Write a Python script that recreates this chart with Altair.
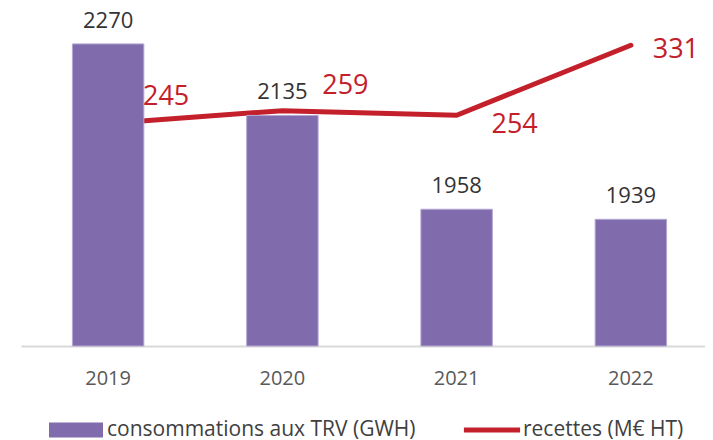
import altair as alt
import pandas as pd

years = ["2019", "2020", "2021", "2022"]
consommations = [2270, 2135, 1958, 1939]
recettes = [245, 259, 254, 331]
series_names = ["consommations aux TRV (GWH)", "recettes (M€ HT)"]

PURPLE = "#806CAC"
RED = "#C3202B"
FONT = "Open Sans"

df = pd.DataFrame({"year": years, "conso": consommations, "rec": recettes})
legend_df = pd.DataFrame({"series": series_names})

x_enc = alt.X(
    "year:N",
    sort=years,
    scale=alt.Scale(range=[0, 697], paddingInner=0.59, paddingOuter=0.295),
    axis=alt.Axis(
        title=None,
        ticks=False,
        tickSize=0,
        labelAngle=0,
        labelFont=FONT,
        labelFontSize=20,
        labelColor="#595959",
        labelBaseline="alphabetic",
        labelPadding=38,
        domainColor="#D9D9D9",
        domainWidth=2,
        grid=False,
    ),
)

y_conso = alt.Y("conso:Q", scale=alt.Scale(domain=[1700, 2300], zero=False, nice=False), axis=None)
y_rec = alt.Y("rec:Q", scale=alt.Scale(domain=[0, 350], nice=False), axis=None)

base = alt.Chart(df)

line = base.mark_line(color=RED, strokeWidth=5, strokeCap="round").encode(x=x_enc, y=y_rec)

bars = base.mark_bar(color=PURPLE, stroke="#B3A7D3", strokeWidth=1).encode(
    x=x_enc, y=y_conso, y2=alt.datum(1700)
)

bar_labels = base.mark_text(
    font=FONT, fontSize=22, color="#333333", baseline="alphabetic", align="center", dy=-16
).encode(x=x_enc, y=y_conso, text="conso:Q")

red_offsets = {"2019": (58, -18), "2020": (63, -17), "2021": (58, 18), "2022": (45, 13)}
red_layers = []
for yr in years:
    ddx, ddy = red_offsets[yr]
    red_layers.append(
        base.transform_filter(alt.datum.year == yr)
        .mark_text(font=FONT, fontSize=27, color=RED, baseline="alphabetic", align="center", dx=ddx, dy=ddy)
        .encode(x=x_enc, y=y_rec, text="rec:Q")
    )

bar_path = "M-1,-0.28L1,-0.28L1,0.28L-1,0.28Z"
line_path = "M-1.04,-0.095L1.04,-0.095L1.04,0.095L-1.04,0.095Z"

leg = alt.Legend(
    title=None,
    orient="none",
    legendX=28,
    legendY=375,
    direction="horizontal",
    labelFont=FONT,
    labelFontSize=21,
    labelColor="#404040",
    labelLimit=0,
    labelOffset=4,
    columnPadding=47,
    padding=0,
    symbolSize=2916,
    symbolOpacity=1,
    symbolStrokeWidth=0,
)

legend_layer = alt.Chart(legend_df).mark_point(filled=True, opacity=0, size=2916).encode(
    color=alt.Color("series:N", sort=series_names,
                    scale=alt.Scale(domain=series_names, range=[PURPLE, RED]), legend=leg),
    shape=alt.Shape("series:N", sort=series_names,
                    scale=alt.Scale(domain=series_names, range=[bar_path, line_path]), legend=leg),
)

chart = (
    alt.layer(line, bars, bar_labels, *red_layers, legend_layer)
    .resolve_scale(y="independent")
    .properties(
        width=684,
        height=318,
        padding={"left": 13, "top": 20, "right": 0, "bottom": 94},
        autosize=alt.AutoSizeParams(type="none"),
    )
    .configure_view(strokeWidth=0)
)

chart.save("out.html", embed_options={"renderer": "svg", "actions": False})
